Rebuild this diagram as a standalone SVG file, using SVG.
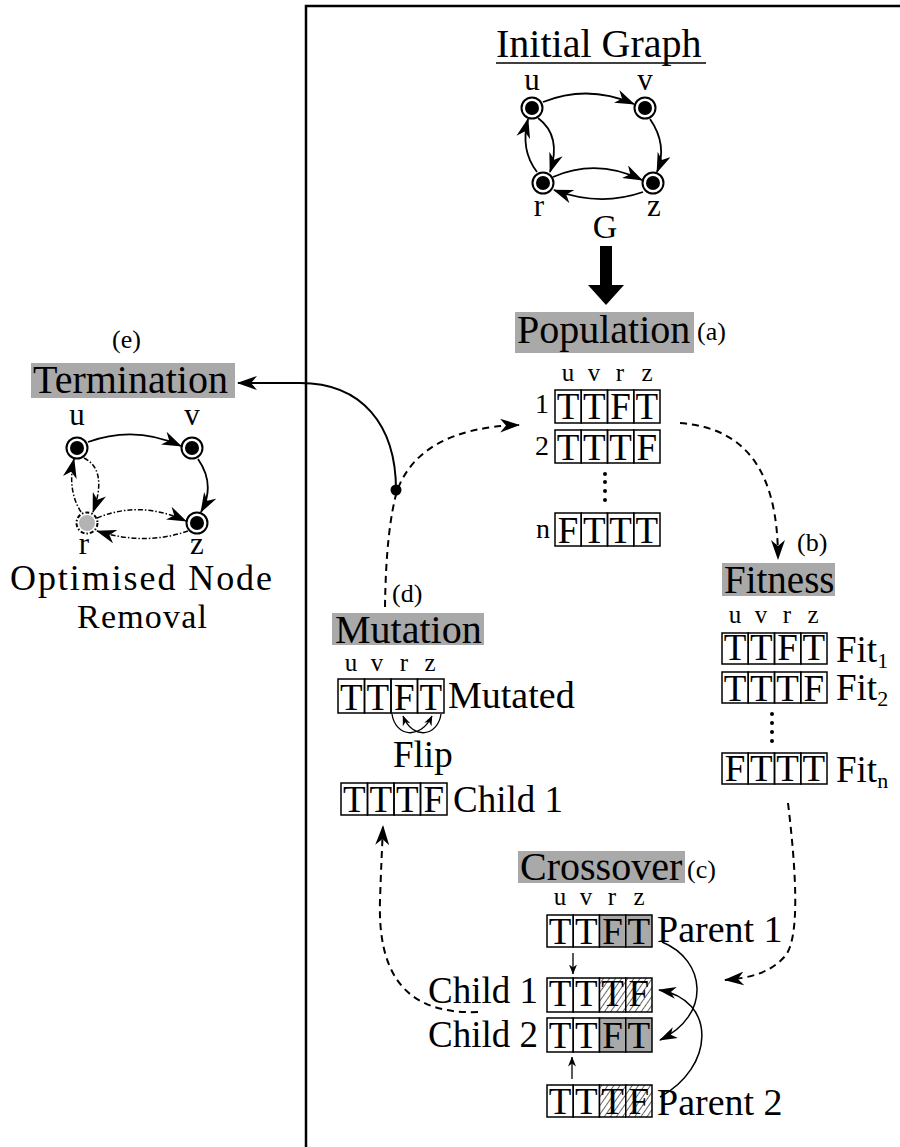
<svg xmlns="http://www.w3.org/2000/svg" width="900" height="1147" viewBox="0 0 900 1147" font-family="Liberation Serif, Times New Roman, DejaVu Serif, serif">
  <style>
    text { font-family: 'Liberation Serif', 'Times New Roman', Times, 'DejaVu Serif', serif; fill: #000; }
    .title { font-size: 40px; }
    .tag { font-size: 26px; }
    .lab { font-size: 37px; }
    .vn { font-size: 31px; text-anchor: middle; }
    .hd { font-size: 25px; text-anchor: middle; }
    .ct { font-size: 37px; text-anchor: middle; }
    .rn { font-size: 28px; text-anchor: end; }
    .sub { font-size: 22px; }
    .band { fill: #a9a9a9; }
    .cell { fill: none; stroke: #000; stroke-width: 1.5; }
    .shade { fill: #a9a9a9; stroke: #000; stroke-width: 1.5; }
    .hatch { fill: url(#hatch); stroke: #000; stroke-width: 1.5; }
    .edge { fill: none; stroke: #000; stroke-width: 1.8; marker-end: url(#ah); }
    .dd { fill: none; stroke: #000; stroke-width: 1.5; stroke-dasharray: 5 2 1.5 2; marker-end: url(#ah); }
    .flow { fill: none; stroke: #000; stroke-width: 2; stroke-dasharray: 7 5; marker-end: url(#ah); }
    .thin { fill: none; stroke: #000; stroke-width: 1.5; marker-end: url(#ahm); }
    .tiny { fill: none; stroke: #000; stroke-width: 1.3; marker-end: url(#ahs); }
    .ring { fill: #fff; stroke: #000; stroke-width: 2; }
    .core { fill: #000; }
  </style>
  <defs>
    <marker id="ah" viewBox="0 0 20 14" refX="19" refY="7" markerWidth="20" markerHeight="14" markerUnits="userSpaceOnUse" orient="auto">
      <path d="M0,0 L20,7 L0,14 L6,7 z" fill="#000"/>
    </marker>
    <marker id="ahm" viewBox="0 0 18 12" refX="17" refY="6" markerWidth="18" markerHeight="12" markerUnits="userSpaceOnUse" orient="auto">
      <path d="M0,0 L18,6 L0,12 L5,6 z" fill="#000"/>
    </marker>
    <marker id="ahs" viewBox="0 0 10 8" refX="9.5" refY="4" markerWidth="10" markerHeight="8" markerUnits="userSpaceOnUse" orient="auto">
      <path d="M0,0 L10,4 L0,8 L3,4 z" fill="#000"/>
    </marker>
    <pattern id="hatch" patternUnits="userSpaceOnUse" width="5" height="5" patternTransform="rotate(35)">
      <rect width="5" height="5" fill="#fff"/>
      <line x1="0" y1="0" x2="0" y2="5" stroke="#000" stroke-width="1.2"/>
    </pattern>
  </defs>

  <rect width="900" height="1147" fill="#fff"/>

  <!-- panel border -->
  <g id="frame" fill="none" stroke="#000" stroke-width="2.5">
    <path d="M306 1147 L306 6 L900 6"/>
  </g>

  <!-- initial graph G -->
  <g id="initial-graph">
    <text class="title" x="496" y="57">Initial Graph</text>
    <line x1="496" y1="63" x2="706" y2="63" stroke="#000" stroke-width="1.5"/>
    <path class="edge" d="M543 102 Q588 84 634 104"/>
    <path class="edge" d="M650 119 Q668 145 657 172"/>
    <path class="edge" d="M538 118 Q562 136 550 172"/>
    <path class="edge" d="M537 172 Q520 150 528 119"/>
    <path class="edge" d="M553 177 Q597 158 642 180"/>
    <path class="edge" d="M643 192 Q600 207 554 190"/>
    <circle class="ring" cx="532" cy="108" r="10.5"/><circle class="core" cx="532" cy="108" r="7"/>
    <circle class="ring" cx="645" cy="108" r="10.5"/><circle class="core" cx="645" cy="108" r="7"/>
    <circle class="ring" cx="543" cy="183" r="10.5"/><circle class="core" cx="543" cy="183" r="7"/>
    <circle class="ring" cx="653" cy="183" r="10.5"/><circle class="core" cx="653" cy="183" r="7"/>
    <text class="vn" x="532" y="90">u</text>
    <text class="vn" x="645" y="90">v</text>
    <text class="vn" x="539" y="216">r</text>
    <text class="vn" x="654" y="216">z</text>
    <text class="vn" x="605" y="238" style="font-size:34px">G</text>
  </g>

  <!-- (a) population -->
  <g id="population">
    <rect class="band" x="515" y="312" width="179" height="41"/>
    <text class="title" x="517" y="343">Population</text>
    <text class="tag" x="697" y="340">(a)</text>
    <text class="hd" y="381"><tspan x="568">u</tspan><tspan x="594">v</tspan><tspan x="620">r</tspan><tspan x="647">z</tspan></text>
    <text class="rn" x="549" y="413">1</text>
    <text class="rn" x="549" y="455">2</text>
    <text class="rn" x="550" y="538">n</text>
    <g>
      <rect class="cell" x="555" y="390" width="26.25" height="33"/><rect class="cell" x="581.25" y="390" width="26.25" height="33"/>
      <rect class="cell" x="607.5" y="390" width="26.25" height="33"/><rect class="cell" x="633.75" y="390" width="26.25" height="33"/>
      <text class="ct" y="419"><tspan x="568.1">T</tspan><tspan x="594.4">T</tspan><tspan x="620.6">F</tspan><tspan x="646.9">T</tspan></text>
    </g>
    <g>
      <rect class="cell" x="555" y="430" width="26.25" height="33"/><rect class="cell" x="581.25" y="430" width="26.25" height="33"/>
      <rect class="cell" x="607.5" y="430" width="26.25" height="33"/><rect class="cell" x="633.75" y="430" width="26.25" height="33"/>
      <text class="ct" y="460"><tspan x="568.1">T</tspan><tspan x="594.4">T</tspan><tspan x="620.6">T</tspan><tspan x="646.9">F</tspan></text>
    </g>
    <g fill="#000">
      <circle cx="605" cy="474" r="2"/><circle cx="605" cy="482" r="2"/><circle cx="605" cy="491" r="2"/><circle cx="605" cy="500" r="2"/>
    </g>
    <g>
      <rect class="cell" x="555" y="513" width="26.25" height="33"/><rect class="cell" x="581.25" y="513" width="26.25" height="33"/>
      <rect class="cell" x="607.5" y="513" width="26.25" height="33"/><rect class="cell" x="633.75" y="513" width="26.25" height="33"/>
      <text class="ct" y="543"><tspan x="568.1">F</tspan><tspan x="594.4">T</tspan><tspan x="620.6">T</tspan><tspan x="646.9">T</tspan></text>
    </g>
  </g>

  <!-- (b) fitness -->
  <g id="fitness">
    <text class="tag" x="797" y="551">(b)</text>
    <rect class="band" x="722" y="563" width="113" height="33"/>
    <text class="title" x="724" y="593" style="font-size:39px">Fitness</text>
    <text class="hd" y="623"><tspan x="735">u</tspan><tspan x="761">v</tspan><tspan x="787">r</tspan><tspan x="813">z</tspan></text>
    <g>
      <rect class="cell" x="722" y="633" width="26.25" height="31"/><rect class="cell" x="748.25" y="633" width="26.25" height="31"/>
      <rect class="cell" x="774.5" y="633" width="26.25" height="31"/><rect class="cell" x="800.75" y="633" width="26.25" height="31"/>
      <text class="ct" y="660"><tspan x="735.1">T</tspan><tspan x="761.4">T</tspan><tspan x="787.6">F</tspan><tspan x="813.9">T</tspan></text>
    </g>
    <text class="lab" x="836" y="662">Fit<tspan class="sub" dy="6">1</tspan></text>
    <g>
      <rect class="cell" x="722" y="672" width="26.25" height="31"/><rect class="cell" x="748.25" y="672" width="26.25" height="31"/>
      <rect class="cell" x="774.5" y="672" width="26.25" height="31"/><rect class="cell" x="800.75" y="672" width="26.25" height="31"/>
      <text class="ct" y="701"><tspan x="735.1">T</tspan><tspan x="761.4">T</tspan><tspan x="787.6">T</tspan><tspan x="813.9">F</tspan></text>
    </g>
    <text class="lab" x="836" y="700">Fit<tspan class="sub" dy="6">2</tspan></text>
    <g fill="#000">
      <circle cx="772" cy="714" r="2"/><circle cx="772" cy="723" r="2"/><circle cx="772" cy="732" r="2"/><circle cx="772" cy="741" r="2"/>
    </g>
    <g>
      <rect class="cell" x="722" y="753" width="26.25" height="31"/><rect class="cell" x="748.25" y="753" width="26.25" height="31"/>
      <rect class="cell" x="774.5" y="753" width="26.25" height="31"/><rect class="cell" x="800.75" y="753" width="26.25" height="31"/>
      <text class="ct" y="781"><tspan x="735.1">F</tspan><tspan x="761.4">T</tspan><tspan x="787.6">T</tspan><tspan x="813.9">T</tspan></text>
    </g>
    <text class="lab" x="836" y="782">Fit<tspan class="sub" dy="6">n</tspan></text>
  </g>

  <!-- (c) crossover -->
  <g id="crossover">
    <rect class="band" x="518" y="851" width="167" height="32"/>
    <text class="title" x="520" y="880">Crossover</text>
    <text class="tag" x="687" y="878">(c)</text>
    <text class="hd" y="905"><tspan x="560">u</tspan><tspan x="586">v</tspan><tspan x="612">r</tspan><tspan x="639">z</tspan></text>
    <g>
      <rect class="cell" x="547" y="915" width="26.25" height="32"/><rect class="cell" x="573.25" y="915" width="26.25" height="32"/>
      <rect class="shade" x="599.5" y="915" width="26.25" height="32"/><rect class="shade" x="625.75" y="915" width="26.25" height="32"/>
      <text class="ct" y="944"><tspan x="560.1">T</tspan><tspan x="586.4">T</tspan><tspan x="612.6">F</tspan><tspan x="638.9">T</tspan></text>
    </g>
    <text class="lab" x="657" y="942" style="font-size:38px">Parent 1</text>
    <g>
      <rect class="cell" x="547" y="978" width="26.25" height="34"/><rect class="cell" x="573.25" y="978" width="26.25" height="34"/>
      <rect class="hatch" x="599.5" y="978" width="26.25" height="34"/><rect class="hatch" x="625.75" y="978" width="26.25" height="34"/>
      <text class="ct" y="1006"><tspan x="560.1">T</tspan><tspan x="586.4">T</tspan><tspan x="612.6">T</tspan><tspan x="638.9">F</tspan></text>
    </g>
    <text class="lab" x="538" y="1003" text-anchor="end">Child 1</text>
    <g>
      <rect class="cell" x="547" y="1018" width="26.25" height="34"/><rect class="cell" x="573.25" y="1018" width="26.25" height="34"/>
      <rect class="shade" x="599.5" y="1018" width="26.25" height="34"/><rect class="shade" x="625.75" y="1018" width="26.25" height="34"/>
      <text class="ct" y="1048"><tspan x="560.1">T</tspan><tspan x="586.4">T</tspan><tspan x="612.6">F</tspan><tspan x="638.9">T</tspan></text>
    </g>
    <text class="lab" x="538" y="1047" text-anchor="end">Child 2</text>
    <g>
      <rect class="cell" x="547" y="1085" width="26.25" height="32"/><rect class="cell" x="573.25" y="1085" width="26.25" height="32"/>
      <rect class="hatch" x="599.5" y="1085" width="26.25" height="32"/><rect class="hatch" x="625.75" y="1085" width="26.25" height="32"/>
      <text class="ct" y="1114"><tspan x="560.1">T</tspan><tspan x="586.4">T</tspan><tspan x="612.6">T</tspan><tspan x="638.9">F</tspan></text>
    </g>
    <text class="lab" x="657" y="1115" style="font-size:38px">Parent 2</text>
    <path class="tiny" d="M573 953 L573 974"/>
    <path class="tiny" d="M572 1079 L572 1057"/>
    <path class="thin" d="M662 942 C706 960 712 1015 660 1040"/>
    <path class="thin" d="M660 1097 C714 1068 718 1000 659 990"/>
  </g>

  <!-- (d) mutation -->
  <g id="mutation">
    <text class="tag" x="392" y="602">(d)</text>
    <rect class="band" x="332" y="613" width="152" height="32"/>
    <text class="title" x="335" y="643">Mutation</text>
    <text class="hd" y="671"><tspan x="351">u</tspan><tspan x="377">v</tspan><tspan x="404">r</tspan><tspan x="430">z</tspan></text>
    <g>
      <rect class="cell" x="338" y="679" width="26.5" height="34"/><rect class="cell" x="364.5" y="679" width="26.5" height="34"/>
      <rect class="cell" x="391" y="679" width="26.5" height="34"/><rect class="cell" x="417.5" y="679" width="26.5" height="34"/>
      <text class="ct" y="710"><tspan x="351.2">T</tspan><tspan x="377.7">T</tspan><tspan x="404.2">F</tspan><tspan x="430.7">T</tspan></text>
    </g>
    <text class="lab" x="448" y="708" style="font-size:38px">Mutated</text>
    <path class="tiny" d="M392 714 C395 736 420 741 432 716"/>
    <path class="tiny" d="M441 714 C438 736 413 741 403 716"/>
    <text class="lab" x="393" y="767">Flip</text>
    <g>
      <rect class="cell" x="341" y="783" width="26.5" height="32"/><rect class="cell" x="367.5" y="783" width="26.5" height="32"/>
      <rect class="cell" x="394" y="783" width="26.5" height="32"/><rect class="cell" x="420.5" y="783" width="26.5" height="32"/>
      <text class="ct" y="812"><tspan x="354.2">T</tspan><tspan x="380.7">T</tspan><tspan x="407.2">T</tspan><tspan x="433.7">F</tspan></text>
    </g>
    <text class="lab" x="453" y="812">Child 1</text>
  </g>

  <!-- (e) termination -->
  <g id="termination">
    <text class="tag" x="112" y="348">(e)</text>
    <rect class="band" x="31" y="363" width="204" height="35"/>
    <text class="title" x="33" y="393">Termination</text>
    <path class="edge" d="M88 442 Q135 425 181 446"/>
    <path class="edge" d="M198 459 Q216 485 201 512"/>
    <path class="dd" d="M84 458 Q108 470 93 512"/>
    <path class="dd" d="M81 512 Q67 490 74 459"/>
    <path class="dd" d="M97 518 Q140 500 186 521"/>
    <path class="dd" d="M188 531 Q145 546 97 531"/>
    <circle class="ring" cx="77" cy="448" r="10.5"/><circle class="core" cx="77" cy="448" r="7"/>
    <circle class="ring" cx="192" cy="448" r="10.5"/><circle class="core" cx="192" cy="448" r="7"/>
    <circle cx="87" cy="523" r="10.5" fill="#fff" stroke="#000" stroke-width="2" stroke-dasharray="4 2 1.5 2"/>
    <circle cx="87" cy="523" r="8" fill="#b3b3b3"/>
    <circle class="ring" cx="197" cy="523" r="10.5"/><circle class="core" cx="197" cy="523" r="7"/>
    <text class="vn" x="77" y="425">u</text>
    <text class="vn" x="192" y="425">v</text>
    <text class="vn" x="84" y="554">r</text>
    <text class="vn" x="197" y="554">z</text>
    <text class="title" x="141" y="590" text-anchor="middle" textLength="262" style="font-size:36px">Optimised Node</text>
    <text class="title" x="142" y="628" text-anchor="middle" textLength="130" style="font-size:34px">Removal</text>
  </g>

  <!-- flow between stages -->
  <g id="connectors">
    <rect x="600" y="246" width="12" height="40" fill="#000"/>
    <path d="M588 285 L624 285 L606 305 z" fill="#000"/>
    <path class="flow" d="M680 423 C745 428 778 470 778 559"/>
    <path class="flow" d="M788 803 C796 870 800 935 786 955 C771 973 750 978 725 980"/>
    <path class="flow" d="M478 1012 C398 1015 378 965 380 900 C381 870 382 850 383 826"/>
    <path class="flow" d="M385 607 Q386 530 397 491 Q420 428 519 425"/>
    <path class="edge" style="stroke-width:2" d="M396 490 C396 425 362 383 300 383 L238 383"/>
    <circle cx="396" cy="490" r="5.5" fill="#000"/>
  </g>
</svg>
